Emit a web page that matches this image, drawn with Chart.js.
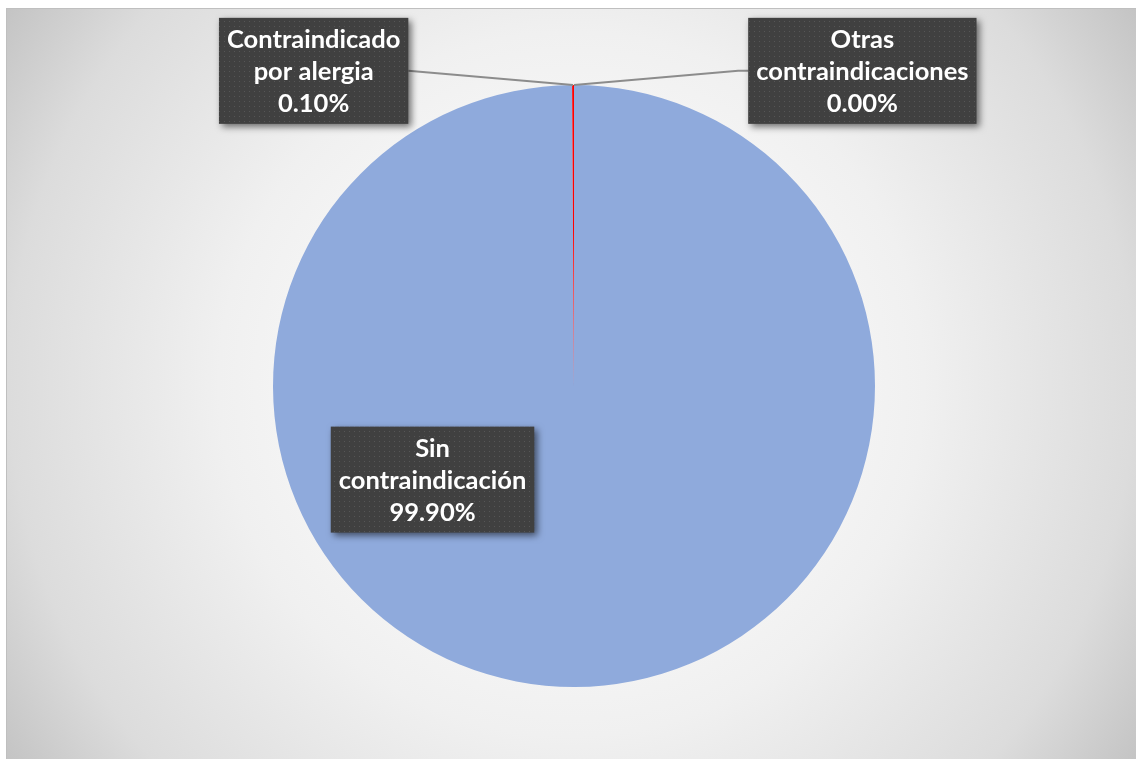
<!DOCTYPE html>
<html lang="es">
<head>
<meta charset="utf-8">
<title>Contraindicaciones</title>
<script src="https://cdn.jsdelivr.net/npm/chart.js@4/dist/chart.umd.min.js"></script>
<style>
    html, body { margin: 0; padding: 0; background: #ffffff; overflow: hidden; }
    #frame {
        position: absolute;
        left: 6px;
        top: 8px;
        width: 1129px;
        height: 750px;
        border: 1px solid #bfbfbf;
        background: radial-gradient(circle farthest-corner at 50% 50%, #ffffff 0%, #f8f8f8 30%, #f0f0f0 52%, #dcdcdc 83%, #c4c4c4 100%);
    }
    #pieChart { display: block; }
</style>
</head>
<body>
<div id="frame">
    <canvas id="pieChart" width="1129" height="750"></canvas>
</div>
<script>
// Data
const categories = ['Sin contraindicación', 'Contraindicado por alergia', 'Otras contraindicaciones'];
const labelLines = [['Sin', 'contraindicación'], ['Contraindicado', 'por alergia'], ['Otras', 'contraindicaciones']];
const percentValues = [99.90, 0.10, 0.00];
const sliceColors = ['#8FAADC', '#FF0000', '#A5A5A5'];

// dotted dark fill used by the Excel-style data label boxes
function makeDotPattern(ctx) {
    const tile = document.createElement('canvas');
    tile.width = 5;
    tile.height = 5;
    const t = tile.getContext('2d');
    t.fillStyle = '#404040';
    t.fillRect(0, 0, 5, 5);
    t.fillStyle = '#565656';
    t.fillRect(2, 2, 1, 1);
    return ctx.createPattern(tile, 'repeat');
}

// label placement relative to pie center, in radius units
const labelPlacement = [
    { dx: -0.470, dy: 0.311, leader: false },
    { dx: -0.865, dy: -1.047, leader: true, side: 'left' },
    { dx: 0.958, dy: -1.047, leader: true, side: 'right' }
];

const boxLabelPlugin = {
    id: 'boxLabels',
    afterDatasetsDraw(chart) {
        const ctx = chart.ctx;
        const meta = chart.getDatasetMeta(0);
        const first = meta.data[0];
        const cx = first.x, cy = first.y, r = first.outerRadius;
        const pattern = makeDotPattern(ctx);
        const lineH = 32;
        ctx.save();
        ctx.font = "bold 25.5px Lato, 'Open Sans', sans-serif";
        ctx.textAlign = 'center';
        ctx.textBaseline = 'middle';

        meta.data.forEach((arc, i) => {
            const place = labelPlacement[i];
            const lines = labelLines[i].concat([percentValues[i].toFixed(2) + '%']);
            const bx = cx + place.dx * r;
            const by = cy + place.dy * r;
            const w = Math.max(...lines.map(s => ctx.measureText(s).width)) + 16;
            const h = lines.length * lineH + 10;
            const left = bx - w / 2, top = by - h / 2;

            // leader line to the slice edge
            if (place.leader) {
                const mid = (arc.startAngle + arc.endAngle) / 2;
                const px = cx + Math.cos(mid) * r;
                const py = cy + Math.sin(mid) * r;
                ctx.strokeStyle = '#8c8c8c';
                ctx.lineWidth = 2;
                ctx.beginPath();
                if (place.side === 'left') {
                    ctx.moveTo(left + w, by);
                } else {
                    ctx.moveTo(left, by);
                    ctx.lineTo(left - 10, by);
                }
                ctx.lineTo(px, py);
                ctx.stroke();
            }

            ctx.save();
            ctx.shadowColor = 'rgba(0, 0, 0, 0.55)';
            ctx.shadowBlur = 7;
            ctx.shadowOffsetX = 3;
            ctx.shadowOffsetY = 3;
            ctx.fillStyle = pattern;
            ctx.fillRect(left, top, w, h);
            ctx.restore();

            ctx.fillStyle = '#ffffff';
            lines.forEach((s, k) => {
                ctx.fillText(s, bx, top + 5 + lineH * k + lineH / 2 + 1);
            });
        });
        ctx.restore();
    }
};

new Chart(document.getElementById('pieChart').getContext('2d'), {
    type: 'pie',
    data: {
        labels: categories,
        datasets: [{
            data: percentValues,
            backgroundColor: sliceColors,
            borderWidth: 0
        }]
    },
    options: {
        responsive: false,
        animation: false,
        layout: { padding: { top: 76, bottom: 72, left: 5, right: 0 } },
        plugins: {
            legend: { display: false },
            tooltip: { enabled: false }
        }
    },
    plugins: [boxLabelPlugin]
});
</script>
</body>
</html>
